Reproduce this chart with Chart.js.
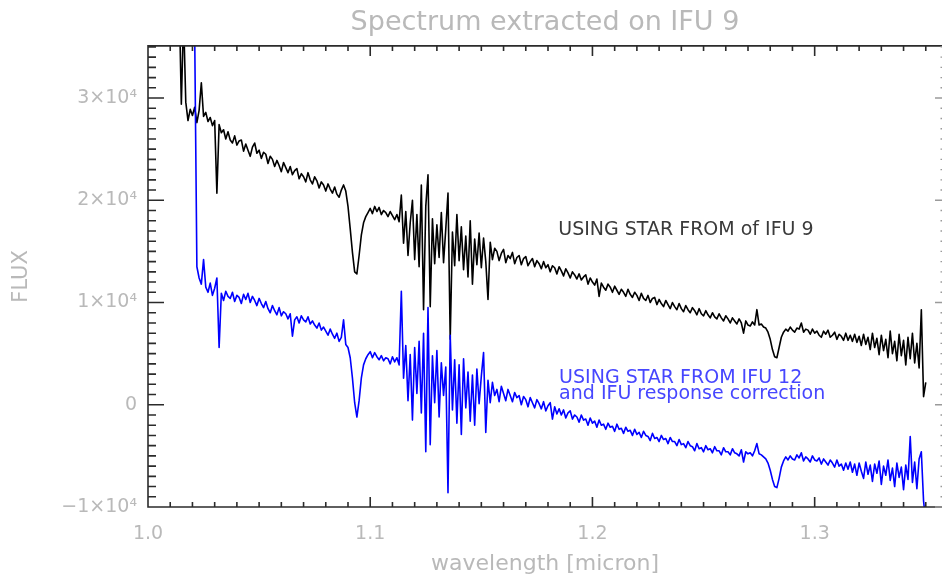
<!DOCTYPE html>
<html>
<head>
<meta charset="utf-8">
<title>Spectrum extracted on IFU 9</title>
<script src="https://cdn.jsdelivr.net/npm/chart.js@4.4.1/dist/chart.umd.min.js"></script>
<style>
  html, body { margin: 0; padding: 0; background: #fff; }
  #wrap { width: 942px; height: 577px; }
</style>
</head>
<body>
<div id="wrap"><canvas id="spec" width="942" height="577"></canvas></div>
<script>
// wavelength grid of the extracted spectrum (micron)
var waveStart = 1.014;
var waveStep = 0.001;

// flux, in units of 1000 (one value per grid step)
var fluxIfu9 = [
    40, 29.4, 38, 29.6, 27.8, 28.9, 28.3, 29.1, 27.6, 28.8,
    31.5, 28.2, 28.6, 27.7, 28.1, 27.3, 27.8, 20.7, 27.4, 26.6,
    26.9, 26.0, 26.7, 25.9, 25.6, 26.3, 25.4, 25.8, 25.9, 24.8,
    25.5, 24.9, 24.3, 25.2, 25.6, 24.6, 24.9, 24.1, 24.7, 24.5,
    23.6, 24.3, 24.0, 23.3, 23.9, 23.4, 22.8, 23.7, 23.2, 22.7,
    23.3, 22.5, 22.9, 23.1, 22.1, 22.6, 22.3, 21.8, 22.7, 22.0,
    21.6, 22.3, 21.9, 21.2, 21.8, 21.5, 20.9, 21.6, 21.1, 20.7,
    21.3, 20.6, 20.3, 21.0, 21.5, 20.9, 19.4, 17.2, 14.9, 13.0,
    12.8, 14.6, 16.6, 17.8, 18.4, 18.8, 19.2, 18.7, 19.4, 18.9,
    19.3, 18.6, 19.0, 18.8, 18.4, 18.9, 18.5, 18.1, 18.6, 17.9,
    20.5, 15.8, 18.9, 14.6, 17.8, 20.0, 14.2, 18.6, 13.5, 21.5,
    9.3, 19.4, 22.5, 9.6, 18.2, 13.8, 17.6, 14.4, 18.8, 13.9,
    17.2, 20.7, 6.4, 16.9, 13.6, 18.6, 14.1, 17.4, 13.2, 16.5,
    12.5, 18.0, 11.8, 16.2, 13.7, 16.8, 13.4, 16.3, 14.0, 10.3,
    15.9, 14.2, 15.3, 15.0, 14.1, 14.8, 15.2, 13.9, 14.6, 14.3,
    14.9, 13.8, 14.4, 14.6, 13.7, 14.3, 14.5, 13.6, 14.0, 14.3,
    13.5, 14.1, 13.8, 13.3, 14.0, 13.4, 13.7, 13.0, 13.6, 13.4,
    12.8, 13.5, 13.1, 12.6, 13.3, 12.9, 12.4, 13.0, 12.7, 12.3,
    12.8, 12.2, 12.5, 12.7, 11.8, 12.4, 12.0, 11.7, 12.3, 10.6,
    11.9, 11.5, 11.2, 11.8, 11.5, 11.0, 11.6, 11.2, 10.8, 11.3,
    11.0, 10.6, 11.3, 10.8, 10.5, 11.0, 10.7, 10.2, 10.9, 10.4,
    10.2, 10.7, 10.0, 10.4, 10.5, 9.8, 10.3, 9.9, 9.6, 10.2,
    9.8, 9.4, 10.0, 9.6, 9.3, 9.9, 9.4, 9.1, 9.7, 9.3,
    9.0, 9.5, 9.2, 8.8, 9.4, 8.9, 8.7, 9.2, 8.8, 8.5,
    9.0, 8.6, 8.4, 8.9, 8.5, 8.2, 8.7, 8.4, 8.0, 8.5,
    8.2, 7.9, 8.4, 8.0, 7.0, 8.2, 7.8, 7.7, 8.1, 7.8,
    9.3, 7.8, 7.9, 7.6, 7.5, 7.1, 6.4, 5.4, 4.7, 4.6,
    5.6, 6.6, 7.1, 7.4, 7.2, 7.6, 7.3, 7.1, 7.5, 7.4,
    8.0, 7.1, 7.4, 7.3, 6.9, 7.4, 7.0, 7.2, 6.8, 6.6,
    7.2, 6.9, 7.3, 6.6, 6.8, 7.1, 6.4, 6.9, 6.7, 6.3,
    7.0, 6.3, 6.8, 6.2, 6.9, 6.1, 6.7, 5.8, 6.9, 5.9,
    6.6, 5.4, 7.0, 5.6, 6.5, 4.9, 6.8, 5.3, 6.4, 4.6,
    7.2, 5.0, 6.2, 4.3, 6.9, 4.8, 6.3, 3.9, 6.6, 4.5,
    7.0, 4.1, 6.0, 3.6, 9.3, 0.8, 2.2
];

var fluxIfu12 = [
    70, 66, 62, 58, 54, 50, 44, 36.5, 13.5, 12.4,
    11.8, 14.2, 11.5, 11.0, 11.9, 10.7, 11.4, 12.4, 5.6, 10.9,
    10.2, 11.1, 10.6, 10.4, 11.0, 10.1, 10.7, 10.5, 9.9, 10.8,
    10.3, 10.9, 10.0, 10.6, 10.2, 9.7, 10.4, 9.9, 9.5, 10.1,
    9.4, 9.0, 9.7, 9.2, 8.8, 9.5, 8.7, 9.1, 8.9, 8.4,
    8.9, 6.7, 8.3, 8.6, 8.0, 8.7, 8.3, 8.1, 8.6, 7.9,
    8.2, 7.8, 7.5, 8.0, 7.3, 7.6, 7.2, 6.8, 7.4, 6.9,
    6.5, 7.0, 6.2, 6.6, 8.3, 5.9, 5.6, 4.6, 2.6, 0.2,
    -1.2, 0.4, 2.6, 3.9, 4.5, 4.9, 5.2, 4.6, 5.1, 4.7,
    4.4, 4.8, 4.3, 4.6, 4.5, 4.0, 4.7, 4.2, 4.6, 3.9,
    11.1, 2.6, 5.8, 0.4, 4.9, -1.5, 5.6, 1.1, 6.2, -0.8,
    7.0, -4.6, 9.5, -3.9, 4.8, 0.2, 5.3, -1.2, 4.1, 0.9,
    3.7, -8.6, 6.8, -0.5, 4.4, -1.8, 3.9, -2.9, 4.5, -0.3,
    3.2, -1.6, 2.9, -2.0, 3.5, 0.1, 2.8, 5.1, -2.7, 2.4,
    0.2, 2.2, 0.9, 1.5, 0.3, 1.8, 1.1, 0.4, 1.5, 0.9,
    0.3, 1.2, 0.7, 0.9, 0.0, 0.8, 0.5, -0.2, 0.7, 0.2,
    -0.3, 0.5, 0.1, -0.4, 0.3, -0.6, -0.1, 0.2, -1.4, -0.2,
    -0.9, -0.4, -1.0, -0.5, -1.3, -0.8, -0.6, -1.4, -1.0, -1.2,
    -1.7, -1.0, -1.5, -1.4, -2.0, -1.3, -1.8, -1.6, -2.2, -1.5,
    -2.0, -1.9, -2.4, -1.8, -2.2, -2.1, -2.6, -1.9, -2.4, -2.3,
    -2.8, -2.2, -2.6, -2.5, -3.0, -2.4, -2.9, -2.7, -3.2, -2.6,
    -3.0, -3.1, -3.5, -2.8, -3.3, -3.2, -3.6, -3.0, -3.4, -3.3,
    -3.8, -3.2, -3.6, -3.6, -4.0, -3.4, -3.9, -3.8, -4.2, -3.6,
    -4.0, -4.1, -4.5, -3.8, -4.3, -4.2, -4.6, -4.0, -4.4, -4.3,
    -4.7, -4.1, -4.5, -4.5, -4.9, -4.2, -4.6, -4.6, -4.9, -4.3,
    -4.7, -4.8, -5.0, -4.4, -5.6, -4.6, -4.8, -4.7, -5.0, -4.5,
    -3.8, -4.8, -4.9, -5.1, -5.3, -5.7, -6.4, -7.3, -8.0, -8.1,
    -7.2, -6.1, -5.5, -5.1, -5.4, -5.0, -5.3, -5.4, -4.9, -5.2,
    -4.7, -5.5, -5.1, -5.3, -5.6, -5.0, -5.4, -5.5, -5.2, -5.8,
    -5.3, -5.6, -5.9, -5.4, -5.7, -6.1, -5.4, -6.0, -5.8, -6.4,
    -5.7, -6.3, -5.6, -6.6, -5.8, -6.9, -5.7, -6.5, -7.2, -5.6,
    -6.8, -5.9, -7.5, -5.8, -6.7, -5.5, -7.8, -6.0, -6.9, -5.4,
    -7.4, -6.2, -8.0, -5.7, -7.1, -6.1, -8.3, -5.9, -7.3, -3.1,
    -7.6, -5.6, -8.2, -5.3, -4.6, -9.4, -11.5
];

var xTickValues = [1.0, 1.1, 1.2, 1.3];
var xTickLabels = ['1.0', '1.1', '1.2', '1.3'];
var yTickValues = [-10000, 0, 10000, 20000, 30000];
var yTickLabels = ['\u22121\u00d710\u2074', '0', '1\u00d710\u2074', '2\u00d710\u2074', '3\u00d710\u2074'];

var noteIfu9 = 'USING STAR FROM of IFU 9';
var noteIfu12 = ['USING STAR FROM IFU 12', 'and IFU response correction'];

var gray = '#b9b9b9';
var fontFamily = '"DejaVu Sans", sans-serif';

function toPoints(flux) {
    return flux.map(function (f, i) {
        return { x: waveStart + i * waveStep, y: f * 1000 };
    });
}

// IDL-like box: inward major/minor ticks on every side
var idlFrame = {
    id: 'idlFrame',
    afterDatasetsDraw: function (chart) {
        var ctx = chart.ctx, a = chart.chartArea;
        var xs = chart.scales.x, ys = chart.scales.y;
        var k, px, py, len;
        ctx.save();
        ctx.strokeStyle = '#2b2b2b';
        ctx.lineWidth = 1.6;
        ctx.beginPath();
        ctx.moveTo(a.right, a.top);
        ctx.lineTo(a.left, a.top);
        ctx.lineTo(a.left, a.bottom);
        ctx.lineTo(a.right, a.bottom);
        for (k = 0; k <= 35; k++) {
            px = xs.getPixelForValue(1.0 + k * 0.01);
            len = (k % 10 === 0) ? 10 : 5;
            ctx.moveTo(px, a.bottom);
            ctx.lineTo(px, a.bottom - len);
            ctx.moveTo(px, a.top);
            ctx.lineTo(px, a.top + len);
        }
        for (k = -10; k <= 35; k++) {
            py = ys.getPixelForValue(k * 1000);
            len = (k % 10 === 0) ? 16 : 8;
            ctx.moveTo(a.left, py);
            ctx.lineTo(a.left + len, py);
        }
        ctx.stroke();

        // right axis sits just past the crop, only tick tips show
        ctx.strokeStyle = '#9a9a9a';
        ctx.lineWidth = 1.4;
        ctx.beginPath();
        for (k = -10; k <= 35; k++) {
            py = ys.getPixelForValue(k * 1000);
            len = (k % 10 === 0) ? 7 : 1.5;
            ctx.moveTo(a.right + 1, py);
            ctx.lineTo(a.right - len, py);
        }
        ctx.stroke();
        ctx.restore();
    }
};

var notes = {
    id: 'notes',
    afterDatasetsDraw: function (chart) {
        var ctx = chart.ctx, xs = chart.scales.x, ys = chart.scales.y;
        ctx.save();
        ctx.font = '19px ' + fontFamily;
        ctx.textAlign = 'left';
        ctx.textBaseline = 'alphabetic';
        ctx.fillStyle = '#3a3a3a';
        ctx.fillText(noteIfu9, xs.getPixelForValue(1.1846), ys.getPixelForValue(16600));
        ctx.fillStyle = '#4646ff';
        ctx.fillText(noteIfu12[0], xs.getPixelForValue(1.1850), ys.getPixelForValue(2150));
        ctx.fillText(noteIfu12[1], xs.getPixelForValue(1.1850), ys.getPixelForValue(580));
        ctx.restore();
    }
};

new Chart(document.getElementById('spec'), {
    type: 'scatter',
    data: {
        datasets: [
            {
                label: noteIfu12.join(' '),
                data: toPoints(fluxIfu12),
                showLine: true,
                borderColor: '#0000ff',
                borderWidth: 1.6,
                borderJoinStyle: 'round',
                pointRadius: 0,
                tension: 0,
                order: 1
            },
            {
                label: noteIfu9,
                data: toPoints(fluxIfu9),
                showLine: true,
                borderColor: '#000000',
                borderWidth: 1.6,
                borderJoinStyle: 'round',
                pointRadius: 0,
                tension: 0,
                order: 2
            }
        ]
    },
    options: {
        responsive: false,
        animation: false,
        events: [],
        layout: { padding: { left: 0, right: 0, top: 0, bottom: 0 } },
        plugins: {
            legend: { display: false },
            tooltip: { enabled: false },
            title: {
                display: true,
                text: 'Spectrum extracted on IFU 9',
                color: gray,
                fullSize: false,
                font: { family: fontFamily, size: 27, weight: 'normal' },
                padding: { top: 7, bottom: 6.5 }
            }
        },
        scales: {
            x: {
                type: 'linear',
                min: 1.0,
                max: 1.3573,
                grid: { display: false, drawTicks: false },
                border: { display: false },
                afterBuildTicks: function (scale) {
                    scale.ticks = xTickValues.map(function (v) { return { value: v }; });
                },
                afterFit: function (scale) { scale.height = 70; },
                ticks: {
                    color: gray,
                    padding: 16,
                    maxRotation: 0,
                    font: { family: fontFamily, size: 19 },
                    callback: function (v, i) { return xTickLabels[i]; }
                },
                title: {
                    display: true,
                    text: 'wavelength [micron]',
                    color: gray,
                    font: { family: fontFamily, size: 22 },
                    padding: { top: 0, bottom: 0 }
                }
            },
            y: {
                type: 'linear',
                min: -10000,
                max: 35100,
                grid: { display: false, drawTicks: false },
                border: { display: false },
                afterBuildTicks: function (scale) {
                    scale.ticks = yTickValues.map(function (v) { return { value: v }; });
                },
                afterFit: function (scale) { scale.width = 148; },
                ticks: {
                    color: gray,
                    padding: 11,
                    font: { family: fontFamily, size: 19 },
                    callback: function (v, i) { return yTickLabels[i]; }
                },
                title: {
                    display: true,
                    text: 'FLUX',
                    color: gray,
                    font: { family: fontFamily, size: 21 },
                    padding: { top: 9, bottom: 0 }
                }
            }
        }
    },
    plugins: [idlFrame, notes]
});
</script>
</body>
</html>
